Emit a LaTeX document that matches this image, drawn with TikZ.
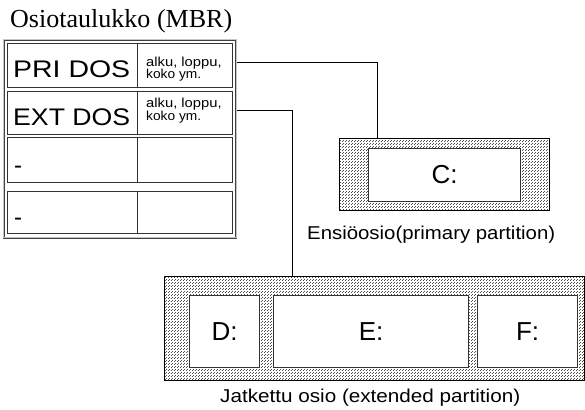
\documentclass[tikz,border=0pt]{standalone}
\usepackage{fontspec}
\setmainfont{Liberation Serif}
\setsansfont{Liberation Sans}
\usetikzlibrary{patterns}
% coarse stipple for partition areas
\pgfdeclarepatternformonly{stipple}{\pgfpointorigin}{\pgfqpoint{3pt}{3pt}}{\pgfqpoint{3pt}{3pt}}{%
  \pgfpathrectangle{\pgfqpoint{0pt}{0pt}}{\pgfqpoint{1.1pt}{1.1pt}}%
  \pgfpathrectangle{\pgfqpoint{1.5pt}{1.5pt}}{\pgfqpoint{1.1pt}{1.1pt}}%
  \pgfusepath{fill}}
% set a text to a given width, keeping its height
\newcommand\fitw[2]{\resizebox{#1}{\height}{#2}}
\tikzset{
  cell/.style={draw=black!80, line width=1.1pt, inner sep=0pt, anchor=north west},
  frame/.style={draw=black!75, double=gray!45, double distance=0.8pt, line width=0.7pt, inner sep=0pt, anchor=north west},
  area/.style={draw=black, line width=0.8pt, pattern=stipple, pattern color=black!70, inner sep=0pt, anchor=north west},
  part/.style={draw=black!80, fill=white, line width=1.1pt, inner sep=0pt, anchor=north west},
  big/.style={font=\sffamily\fontsize{24}{24}\selectfont, anchor=base west, inner sep=0pt},
  small/.style={font=\sffamily\fontsize{13}{13}\selectfont, anchor=base west, inner sep=0pt},
  caption/.style={font=\sffamily\fontsize{18.6}{18.6}\selectfont, anchor=base west, inner sep=0pt},
  drive/.style={font=\sffamily\fontsize{26}{26}\selectfont, inner sep=0pt},
  link/.style={draw=black, line width=0.8pt},
}
\begin{document}
\begin{tikzpicture}[x=1pt,y=-1pt]
  \fill[white] (0,0) rectangle (585,409);
  \useasboundingbox (0,0) rectangle (585,409);

  % title
  \node[anchor=base west, inner sep=0pt, font=\fontsize{26}{26}\selectfont] (title) at (10,28) {\fitw{222pt}{Osiotaulukko (MBR)}};

  % partition table
  \node[frame, minimum width=232.5pt, minimum height=198pt] (mbr) at (3.5,39.5) {};
  \node[cell, minimum width=129.7pt, minimum height=44pt] (n1) at (7.3,43) {};
  \node[cell, minimum width=95pt, minimum height=44pt] (i1) at (137,43) {};
  \node[cell, minimum width=129.7pt, minimum height=43pt] (n2) at (7.3,91) {};
  \node[cell, minimum width=95pt, minimum height=43pt] (i2) at (137,91) {};
  \node[cell, minimum width=129.7pt, minimum height=44.5pt] (n3) at (7.3,137.3) {};
  \node[cell, minimum width=95pt, minimum height=44.5pt] (i3) at (137,137.3) {};
  \node[cell, minimum width=129.7pt, minimum height=42.5pt] (n4) at (7.3,190.8) {};
  \node[cell, minimum width=95pt, minimum height=42.5pt] (i4) at (137,190.8) {};

  \node[big] (t1) at (13,77.5) {\fitw{117pt}{PRI DOS}};
  \node[big] (t2) at (13,125) {\fitw{117pt}{EXT DOS}};
  \node[big] (t3) at (14,173) {-};
  \node[big] (t4) at (14,225) {-};

  \node[small] (s1a) at (146,66.2) {\fitw{75.5pt}{alku, loppu,}};
  \node[small] (s1b) at (146,78.4) {\fitw{55pt}{koko ym.}};
  \node[small] (s2a) at (146,107.8) {\fitw{75.5pt}{alku, loppu,}};
  \node[small] (s2b) at (146,120) {\fitw{55pt}{koko ym.}};

  % primary partition
  \node[area, minimum width=210pt, minimum height=72pt] (prim) at (339,138) {};
  \node[part, minimum width=152pt, minimum height=52.5pt] (c) at (368,148) {};
  \node[drive] at (c.center) {C:};
  \node[caption] (capc) at (307,239) {\fitw{248pt}{Ensiöosio(primary partition)}};

  % extended partition
  \node[area, minimum width=420pt, minimum height=104pt] (ext) at (164,276) {};
  \node[part, minimum width=70pt, minimum height=72pt] (d) at (189,295) {};
  \node[part, minimum width=195pt, minimum height=72pt] (e) at (273,295) {};
  \node[part, minimum width=100pt, minimum height=72pt] (f) at (477,295) {};
  \node[drive] at (d.center) {D:};
  \node[drive] at (e.center) {E:};
  \node[drive] at (f.center) {F:};
  \node[caption] (cape) at (220,402) {\fitw{300pt}{Jatkettu osio (extended partition)}};

  % links from table entries to partitions
  \coordinate (k1) at (377,62.7);
  \coordinate (k2) at (292,110.7);
  \draw[link] (mbr.east |- k1) -| (k1 |- prim.north);
  \draw[link] (mbr.east |- k2) -| (k2 |- ext.north);
\end{tikzpicture}
\end{document}
